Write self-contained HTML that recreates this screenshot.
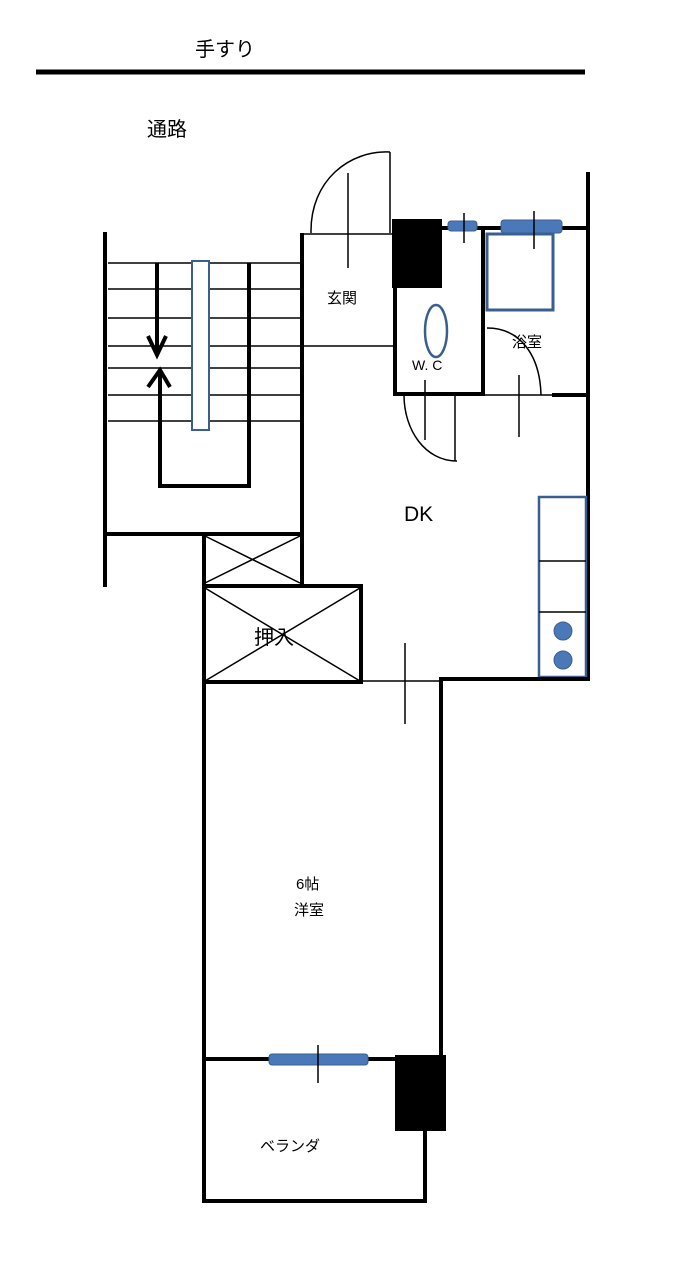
<!DOCTYPE html>
<html><head><meta charset="utf-8"><style>
html,body{margin:0;padding:0;background:#fff}
svg{display:block}
text{font-family:"Liberation Sans","Noto Sans CJK JP",sans-serif;fill:#000}
</style></head><body>
<svg width="700" height="1266" viewBox="0 0 700 1266" xmlns="http://www.w3.org/2000/svg">
<rect width="700" height="1266" fill="#fff"/>
<text x="195" y="56" font-size="20">手すり</text>
<line x1="36" y1="72" x2="585" y2="72" stroke="#000" stroke-width="5"/>
<text x="147" y="136" font-size="20">通路</text>

<!-- stairs -->
<g stroke="#000" stroke-width="1.5">
<line x1="108" y1="263" x2="300" y2="263"/><line x1="108" y1="289" x2="300" y2="289"/>
<line x1="108" y1="318" x2="300" y2="318"/><line x1="108" y1="346" x2="300" y2="346"/>
<line x1="108" y1="368" x2="300" y2="368"/><line x1="108" y1="395" x2="300" y2="395"/>
<line x1="108" y1="421" x2="300" y2="421"/>
</g>
<g stroke="#000" stroke-width="4" fill="none">
<line x1="105" y1="232" x2="105" y2="587"/>
<line x1="103" y1="534" x2="304" y2="534"/>
<line x1="157" y1="263" x2="157" y2="355"/>
<polyline points="148,336 157,355 166,336"/>
<polyline points="148,387 160,370 170,387"/>
<polyline points="160,372 160,486 249,486 249,263"/>
<line x1="302" y1="233" x2="302" y2="585"/>
</g>
<rect x="192" y="261" width="17" height="169" fill="#fff" stroke="#3a5f8f" stroke-width="2"/>

<!-- entrance -->
<g stroke="#000" stroke-width="1.5" fill="none">
<line x1="302" y1="234" x2="392" y2="234"/>
<line x1="302" y1="346" x2="395" y2="346"/>
<path d="M311,233 C310,180 350,150 390,152"/>
<line x1="390" y1="152" x2="390" y2="233"/>
<line x1="348" y1="173" x2="348" y2="268"/>
</g>
<text x="327" y="303" font-size="15">玄関</text>
<rect x="392" y="219" width="50" height="69" fill="#000"/>

<!-- WC / bath walls -->
<g stroke="#000" stroke-width="4" fill="none">
<line x1="442" y1="228" x2="590" y2="228"/>
<line x1="588" y1="172" x2="588" y2="680"/>
<line x1="395" y1="286" x2="395" y2="396"/>
<line x1="393" y1="394" x2="485" y2="394"/>
<line x1="483" y1="228" x2="483" y2="396"/>
<line x1="552" y1="395" x2="590" y2="395"/>
</g>
<line x1="483" y1="395" x2="552" y2="395" stroke="#000" stroke-width="1.5"/>
<rect x="448" y="221" width="29" height="10" rx="3" fill="#4a78b8" stroke="#3a5f8f"/>
<rect x="501" y="220" width="61" height="13" rx="3" fill="#4a78b8" stroke="#3a5f8f"/>
<rect x="487" y="234" width="66" height="76" fill="#fff" stroke="#3a5f8f" stroke-width="3"/>
<g stroke="#000" stroke-width="1.5" fill="none">
<line x1="464" y1="213" x2="464" y2="243"/>
<line x1="534" y1="211" x2="534" y2="249"/>
<path d="M487,328 C520,328 540,355 541,395"/>
<line x1="519" y1="375" x2="519" y2="437"/>
<path d="M404,395 C404,430 425,461 457,461"/>
<line x1="455" y1="395" x2="455" y2="461"/>
<line x1="425" y1="380" x2="425" y2="440"/>
</g>
<ellipse cx="436" cy="331" rx="11" ry="26" fill="none" stroke="#3a5f8f" stroke-width="2.5"/>
<text x="412" y="370" font-size="14">W. C</text>
<text x="512" y="347" font-size="15">浴室</text>

<!-- DK -->
<text x="404" y="521" font-size="21">DK</text>
<rect x="539" y="497" width="47" height="180" fill="#fff" stroke="#3a5f8f" stroke-width="2.5"/>
<line x1="539" y1="561" x2="586" y2="561" stroke="#000" stroke-width="1.5"/>
<line x1="539" y1="612" x2="586" y2="612" stroke="#000" stroke-width="1.5"/>
<circle cx="563" cy="631" r="9" fill="#4a78b8" stroke="#3a5f8f"/>
<circle cx="563" cy="660" r="9" fill="#4a78b8" stroke="#3a5f8f"/>

<!-- closets -->
<g stroke="#000" stroke-width="1.5">
<line x1="205" y1="536" x2="300" y2="583"/><line x1="205" y1="583" x2="300" y2="536"/>
<line x1="205" y1="588" x2="360" y2="681"/><line x1="205" y1="681" x2="360" y2="588"/>
<line x1="362" y1="681" x2="441" y2="681"/>
<line x1="405" y1="643" x2="405" y2="724"/>
</g>
<g stroke="#000" stroke-width="4" fill="none">
<line x1="204" y1="534" x2="204" y2="1203"/>
<rect x="204" y="586" width="157" height="96"/>
<line x1="439" y1="679" x2="590" y2="679"/>
<line x1="441" y1="677" x2="441" y2="1060"/>
</g>
<text x="254" y="644" font-size="20">押入</text>

<text x="296" y="889" font-size="15">6帖</text>
<text x="294" y="915" font-size="15">洋室</text>

<!-- veranda -->
<g stroke="#000" stroke-width="4" fill="none">
<line x1="204" y1="1059" x2="396" y2="1059"/>
<line x1="425" y1="1130" x2="425" y2="1203"/>
<line x1="202" y1="1201" x2="427" y2="1201"/>
</g>
<rect x="269" y="1054" width="99" height="11" rx="3" fill="#4a78b8" stroke="#3a5f8f"/>
<line x1="318" y1="1045" x2="318" y2="1083" stroke="#000" stroke-width="1.5"/>
<rect x="395" y="1055" width="51" height="76" fill="#000"/>
<text x="260" y="1151" font-size="15">ベランダ</text>
</svg>
</body></html>
